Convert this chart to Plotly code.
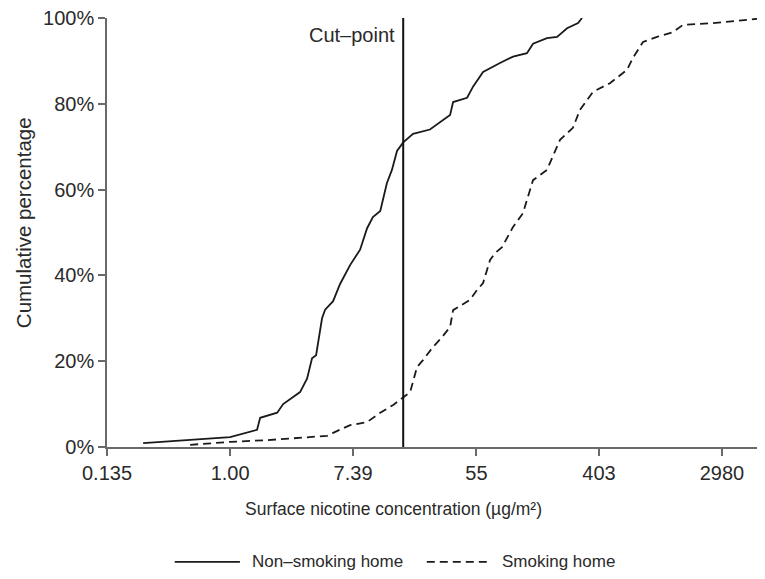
import math
import plotly.graph_objects as go

# ---- data (surface nicotine, µg/m²; cumulative %) ----
nonsmoking_conc = [0.243, 1.0, 1.55, 1.63, 2.15, 2.37, 3.12, 3.50, 3.79, 4.05, 4.46, 4.69,
                   5.34, 5.98, 7.04, 8.28, 9.28, 10.2, 11.5, 12.8, 13.9, 15.1, 16.7, 19.6,
                   25.8, 30.4, 35.8, 37.6, 47.2, 52.0, 61.2, 80.6, 99.7, 125, 138, 173,
                   204, 240, 287, 306]
nonsmoking_pct = [0.9, 2.3, 4.0, 6.8, 8.0, 10.0, 12.8, 16.0, 20.7, 21.4, 30.0, 32.0,
                  34.0, 38.0, 42.4, 46.0, 51.0, 53.6, 55.0, 61.5, 64.6, 69.0, 71.0, 73.0,
                  74.0, 75.8, 77.4, 80.4, 81.4, 84.0, 87.4, 89.5, 91.0, 91.8, 94.0, 95.3,
                  95.6, 97.6, 98.8, 100.0]

smoking_conc = [0.522, 1.0, 1.83, 3.12, 4.84, 5.34, 7.04, 9.28, 11.5, 14.2, 16.7, 18.7,
                20.9, 23.1, 27.1, 31.4, 35.8, 37.6, 49.5, 55.5, 61.2, 68.6, 74.4, 83.4,
                99.7, 117, 138, 173, 214, 264, 296, 366, 482, 636, 701, 825, 1036, 1344,
                1582, 2576, 6000]
smoking_pct = [0.5, 1.2, 1.6, 2.1, 2.6, 3.3, 5.1, 5.8, 8.0, 9.8, 11.7, 12.8,
               18.6, 20.3, 23.3, 25.6, 28.0, 31.9, 34.3, 36.6, 38.2, 43.6, 45.2, 46.6,
               51.3, 54.5, 62.2, 64.6, 71.6, 74.4, 78.6, 82.8, 84.8, 87.9, 90.7, 94.4,
               95.6, 96.7, 98.4, 98.8, 100.0]

cut_point = 16.7
cut_y = [0, 100]

x_tickvals = [0.135, 1.00, 7.39, 55, 403, 2980]
x_ticktext = ["0.135", "1.00", "7.39", "55", "403", "2980"]
y_tickvals = [0, 20, 40, 60, 80, 100]
y_ticktext = ["0%", "20%", "40%", "60%", "80%", "100%"]

FONT = "Liberation Sans, Arial, sans-serif"
INK = "#1a1a1a"
TXT = "#2a2a2a"
AX = "#6a6a6a"

fig = go.Figure()
fig.add_trace(go.Scatter(x=nonsmoking_conc, y=nonsmoking_pct, mode="lines",
                         name="Non–smoking home",
                         line=dict(color=INK, width=1.8), showlegend=False))
fig.add_trace(go.Scatter(x=smoking_conc, y=smoking_pct, mode="lines",
                         name="Smoking home",
                         line=dict(color=INK, width=1.8, dash="8px,5px"), showlegend=False))
fig.add_trace(go.Scatter(x=[cut_point, cut_point], y=cut_y, mode="lines",
                         name="Cut–point", line=dict(color="#111111", width=2),
                         showlegend=False))

# page has an 8px body margin: compensate so the plot area sits at x 107-765, y 18-447
fig.update_layout(
    width=757, height=571,
    margin=dict(l=99, r=0, t=10, b=132),
    paper_bgcolor="white", plot_bgcolor="white",
    font=dict(family=FONT, size=17, color=TXT),
)
fig.update_xaxes(type="log", range=[math.log10(0.135), math.log10(math.exp(8.7))],
                 tickvals=x_tickvals, ticktext=x_ticktext,
                 showline=True, linecolor=AX, linewidth=1.5,
                 ticks="outside", ticklen=7, tickcolor=AX, tickwidth=1.5,
                 showgrid=False, zeroline=False, ticklabeloverflow="allow",
                 tickfont=dict(family=FONT, size=20, color=TXT))
fig.update_yaxes(range=[0, 100], tickvals=y_tickvals, ticktext=y_ticktext,
                 showline=True, linecolor=AX, linewidth=1.5,
                 ticks="outside", ticklen=7, tickcolor=AX, tickwidth=1.5,
                 showgrid=False, zeroline=False, ticklabeloverflow="allow",
                 tickfont=dict(family=FONT, size=20, color=TXT))

# axis titles
fig.add_annotation(text="Surface nicotine concentration (µg/m²)", xref="paper", yref="paper",
                   x=0.435, y=-0.1445, xanchor="center", yanchor="middle", showarrow=False,
                   font=dict(family=FONT, size=17.5, color=TXT))
fig.add_annotation(text="Cumulative percentage", xref="paper", yref="paper",
                   x=-0.1277, y=0.524, xanchor="center", yanchor="middle", textangle=-90,
                   showarrow=False, font=dict(family=FONT, size=20.5, color=TXT))
# cut-point label
fig.add_annotation(text="Cut–point", xref="x", yref="y", x=math.log10(cut_point), y=96,
                   xanchor="right", yanchor="middle", xshift=-6, showarrow=False,
                   font=dict(family=FONT, size=20, color=TXT))

# manual legend
leg_y = -0.268
fig.add_shape(type="line", xref="paper", yref="paper", x0=0.103, x1=0.202, y0=leg_y, y1=leg_y,
              line=dict(color=INK, width=1.8))
fig.add_annotation(text="Non–smoking home", xref="paper", yref="paper", x=0.217, y=leg_y,
                   xanchor="left", yanchor="middle", showarrow=False,
                   font=dict(family=FONT, size=17, color=TXT))
fig.add_shape(type="line", xref="paper", yref="paper", x0=0.486, x1=0.582, y0=leg_y, y1=leg_y,
              line=dict(color=INK, width=1.8, dash="8px,5px"))
fig.add_annotation(text="Smoking home", xref="paper", yref="paper", x=0.597, y=leg_y,
                   xanchor="left", yanchor="middle", showarrow=False,
                   font=dict(family=FONT, size=17, color=TXT))

fig.write_html("out.html")
